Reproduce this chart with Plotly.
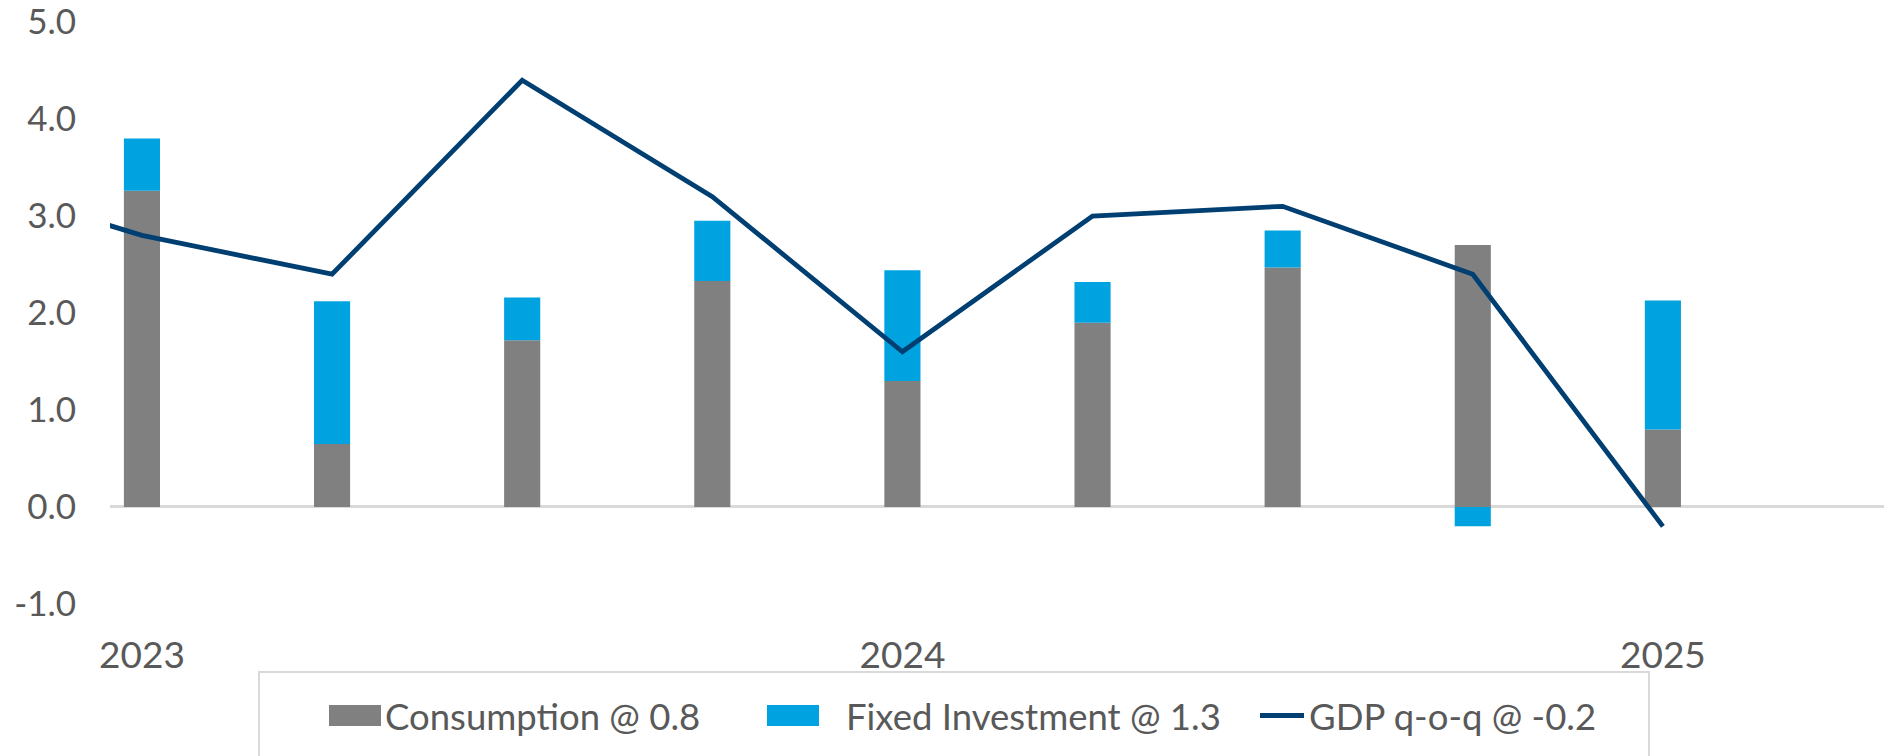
import plotly.graph_objects as go

# ---- data ----
quarters = ["Q4 2022", "Q1 2023", "Q2 2023", "Q3 2023", "Q4 2023",
            "Q1 2024", "Q2 2024", "Q3 2024", "Q4 2024", "Q1 2025"]
consumption = [None, 3.26, 0.65, 1.72, 2.33, 1.30, 1.90, 2.47, 2.70, 0.80]
investment = [None, 0.54, 1.47, 0.44, 0.62, 1.14, 0.42, 0.38, -0.20, 1.33]
gdp = [3.4, 2.8, 2.4, 4.4, 3.2, 1.6, 3.0, 3.1, 2.4, -0.2]
y_ticks = [-1.0, 0.0, 1.0, 2.0, 3.0, 4.0, 5.0]

# ---- styles ----
GRAY = "#808080"
BLUE = "#00A2E0"
NAVY = "#003F72"
TEXT = "#595959"
RULE = "#D9D9D9"
FONT = "Lato"
W, H = 1884, 756
ML, MR, MT, MB = 110, 0, 22, 152

xpos = list(range(len(quarters)))
tickvals = [i for i, q in enumerate(quarters) if q.startswith("Q1")]
ticktext = [quarters[i].split()[1] for i in tickvals]

names = [f"Consumption @ {consumption[-1]:.1f}",
         f"Fixed Investment @ {investment[-1]:.1f}",
         f"GDP q-o-q @ {gdp[-1]:.1f}"]

fig = go.Figure()
fig.add_trace(go.Bar(x=xpos, y=consumption, name=names[0], marker_color=GRAY,
                     marker_line_width=0, width=0.19, showlegend=False))
fig.add_trace(go.Bar(x=xpos, y=investment, name=names[1], marker_color=BLUE,
                     marker_line_width=0, width=0.19, showlegend=False))
fig.add_trace(go.Scatter(x=xpos, y=gdp, name=names[2], mode="lines",
                         line=dict(color=NAVY, width=4.8), showlegend=False,
                         cliponaxis=True))

first = tickvals[0]
fig.update_layout(
    width=W, height=H,
    margin=dict(l=ML, r=MR, t=MT, b=MB, pad=0, autoexpand=False),
    paper_bgcolor="white", plot_bgcolor="white",
    barmode="relative",
    font=dict(family=FONT, color=TEXT, size=34),
    xaxis=dict(range=[first - 0.168, first + 9.163], tickvals=tickvals,
               ticktext=ticktext, showgrid=False, zeroline=False,
               showline=False, ticks="outside", ticklen=19, automargin=False,
               ticklabeloverflow="allow",
               tickcolor="rgba(0,0,0,0)", tickfont=dict(size=37, color=TEXT)),
    yaxis=dict(range=[-1.0005, 5.0005], tickvals=y_ticks,
               ticktext=[f"{v:.1f}" for v in y_ticks], automargin=False,
               ticklabeloverflow="allow",
               showgrid=False, zeroline=True, zerolinecolor=RULE,
               zerolinewidth=2.5, showline=False, ticks="outside",
               ticklen=26, tickcolor="rgba(0,0,0,0)",
               tickfont=dict(size=35, color=TEXT)),
)

# ---- legend drawn as a box with swatches ----
pw, ph = W - ML - MR, H - MT - MB


def px_x(p):
    return (p - ML) / pw


def px_y(p):
    return (H - MB - p) / ph


shapes = [
    dict(type="rect", xref="paper", yref="paper",
         x0=px_x(259), x1=px_x(1649), y0=px_y(820), y1=px_y(672),
         line=dict(color=RULE, width=2), fillcolor="rgba(0,0,0,0)"),
    dict(type="rect", xref="paper", yref="paper",
         x0=px_x(329), x1=px_x(381), y0=px_y(726), y1=px_y(705),
         line=dict(width=0), fillcolor=GRAY),
    dict(type="rect", xref="paper", yref="paper",
         x0=px_x(767), x1=px_x(819), y0=px_y(726), y1=px_y(705),
         line=dict(width=0), fillcolor=BLUE),
    dict(type="line", xref="paper", yref="paper",
         x0=px_x(1260), x1=px_x(1304), y0=px_y(715.5), y1=px_y(715.5),
         line=dict(color=NAVY, width=5)),
]
fig.update_layout(shapes=shapes)
for xt, name in zip([383, 844, 1307], names):
    fig.add_annotation(xref="paper", yref="paper", x=px_x(xt), y=px_y(716),
                       xanchor="left", yanchor="middle", text=name,
                       showarrow=False, font=dict(family=FONT, size=36.5, color=TEXT))

fig.write_html("out.html", config={"displayModeBar": False},
               post_script="document.body.style.margin='0';document.body.style.overflow='hidden';")
